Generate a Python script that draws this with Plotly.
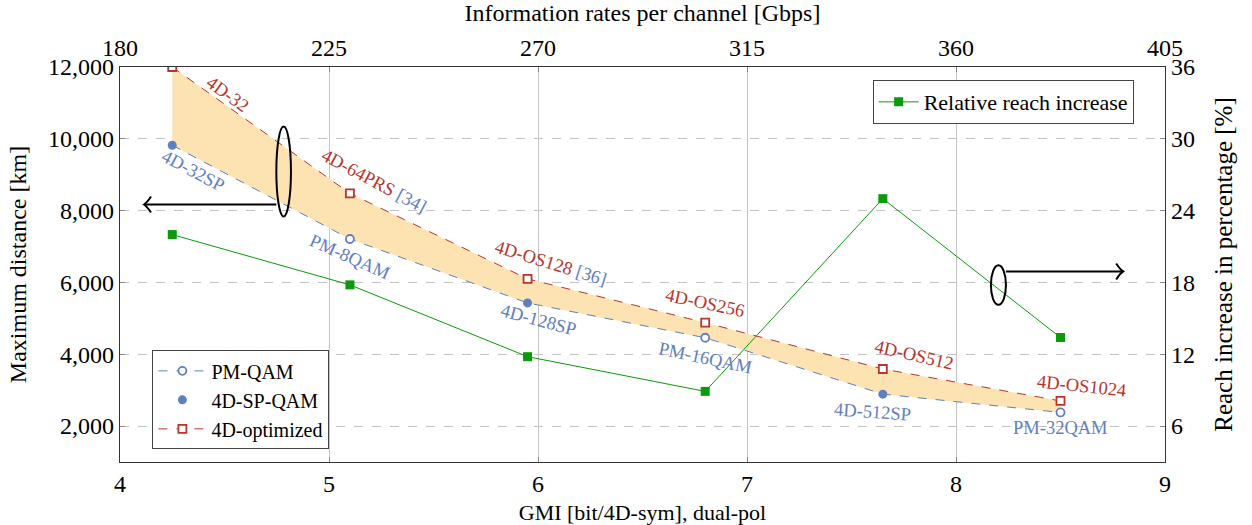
import plotly.graph_objects as go

# --- data -------------------------------------------------------------
gmi = [4.25, 5.10, 5.95, 6.80, 7.65, 8.50]                 # bit/4D-sym
baseline_km = [9820, 7210, 5430, 4460, 2890, 2380]         # PM-QAM / 4D-SP-QAM reach
optimized_km = [12000, 8480, 6100, 4880, 3590, 2700]       # 4D-optimized reach
reach_gain_pct = [22.0, 17.8, 11.8, 8.9, 25.0, 13.4]       # relative reach increase

pm_idx = [1, 3, 5]        # points belonging to PM-QAM
sp_idx = [0, 2, 4]        # points belonging to 4D-SP-QAM

baseline_labels = ["4D-32SP", "PM-8QAM", "4D-128SP", "PM-16QAM", "4D-512SP", "PM-32QAM"]
optimized_labels = ["4D-32", "4D-64PRS", "4D-OS128", "4D-OS256", "4D-OS512", "4D-OS1024"]
optimized_refs = ["", "[34]", "[36]", "", "", ""]

left_ticks = [2000, 4000, 6000, 8000, 10000, 12000]
right_ticks = [6, 12, 18, 24, 30, 36]
bottom_ticks = [4, 5, 6, 7, 8, 9]
top_ticks = [180, 225, 270, 315, 360, 405]                  # Gbps per channel

# --- styling ----------------------------------------------------------
BLUE = "#5f80bf"
RED = "#b8342d"
GREEN = "#0a9a0a"
FILL = "#fde3b1"
FONT = "Liberation Serif"
FS = 24
LABEL_FS = 18.5

fig = go.Figure()

# baseline dashed curve through every baseline point
fig.add_trace(go.Scatter(x=gmi, y=baseline_km, mode="lines",
                         line=dict(color=BLUE, width=1, dash="dash"),
                         showlegend=False, hoverinfo="skip"))
# shaded gap between baseline and optimized curves
fig.add_trace(go.Scatter(x=gmi, y=optimized_km, mode="lines", fill="tonexty",
                         fillcolor=FILL, line=dict(width=0),
                         showlegend=False, hoverinfo="skip"))
# optimized curve
fig.add_trace(go.Scatter(x=gmi, y=optimized_km, mode="lines+markers", name="4D-optimized",
                         line=dict(color=RED, width=1, dash="dash"),
                         marker=dict(symbol="square", size=8, color="white",
                                     line=dict(color=RED, width=1.8)),
                         legendrank=3))
# PM-QAM hollow circles (isolated points so only the legend shows a dashed stub)
pm_x, pm_y = [], []
for i in pm_idx:
    pm_x += [gmi[i], None]
    pm_y += [baseline_km[i], None]
fig.add_trace(go.Scatter(x=pm_x, y=pm_y, mode="lines+markers", name="PM-QAM",
                         connectgaps=False,
                         line=dict(color=BLUE, width=1, dash="dash"),
                         marker=dict(symbol="circle", size=8, color="white",
                                     line=dict(color=BLUE, width=1.8)),
                         legendrank=1))
# 4D-SP-QAM filled circles
fig.add_trace(go.Scatter(x=[gmi[i] for i in sp_idx], y=[baseline_km[i] for i in sp_idx],
                         mode="markers", name="4D-SP-QAM",
                         marker=dict(symbol="circle", size=9, color=BLUE),
                         legendrank=2))
# relative reach increase on the right axis
fig.add_trace(go.Scatter(x=gmi, y=reach_gain_pct, mode="lines+markers",
                         name="Relative reach increase", yaxis="y2", legend="legend2",
                         line=dict(color=GREEN, width=1),
                         marker=dict(symbol="square", size=9, color=GREEN)))
# anchor for the information-rate axis on top
fig.add_trace(go.Scatter(x=top_ticks, y=[None] * len(top_ticks), xaxis="x2",
                         mode="markers", showlegend=False, hoverinfo="skip"))

# --- point labels -----------------------------------------------------
# (point index, curve, angle, xshift, yshift)
label_specs = [
    (0, "opt", 36, 55, -27), (0, "base", 28, 21, -26),
    (1, "opt", 28, 24, 12), (1, "base", 24, 0, -18),
    (2, "opt", 17, 23, 16), (2, "base", 15, 11, -17),
    (3, "opt", 12, 0, 20), (3, "base", 12, 0, -20),
    (4, "opt", 13, 31, 14), (4, "base", 4, -10, -18),
    (5, "opt", 6, 21, 15), (5, "base", 0, 0, -16),
]
for i, kind, ang, dx, dy in label_specs:
    if kind == "opt":
        txt = optimized_labels[i]
        if optimized_refs[i]:
            txt += f" <span style='color:{BLUE}'>{optimized_refs[i]}</span>"
        y, col = optimized_km[i], RED
    else:
        txt, y, col = baseline_labels[i], baseline_km[i], BLUE
    fig.add_annotation(x=gmi[i], y=y, text=txt, showarrow=False, textangle=ang,
                       xshift=dx, yshift=dy,
                       font=dict(family=FONT, size=LABEL_FS, color=col))

# --- axis-pointer ellipses and arrows ---------------------------------
shapes = [
    dict(type="circle", xref="x", yref="y", x0=4.748, x1=4.818, y0=7840, y1=10340,
         line=dict(color="black", width=2)),
    dict(type="line", xref="x", yref="y", x0=4.748, x1=4.115, y0=8170, y1=8170,
         line=dict(color="black", width=2)),
    dict(type="path", xref="x", yref="y", xsizemode="pixel", ysizemode="pixel",
         xanchor=4.115, yanchor=8170, path="M 7,8 Q 3,2 0,0 Q 3,-2 7,-8",
         line=dict(color="black", width=2)),
    dict(type="circle", xref="x", yref="y", x0=8.167, x1=8.239, y0=5377, y1=6477,
         line=dict(color="black", width=2)),
    dict(type="line", xref="x", yref="y", x0=8.239, x1=8.80, y0=6307, y1=6307,
         line=dict(color="black", width=2)),
    dict(type="path", xref="x", yref="y", xsizemode="pixel", ysizemode="pixel",
         xanchor=8.80, yanchor=6307, path="M -7,8 Q -3,2 0,0 Q -3,-2 -7,-8",
         line=dict(color="black", width=2)),
]

axis_common = dict(showline=True, linecolor="#333", linewidth=1.2,
                   ticks="inside", ticklen=5, tickcolor="#888",
                   tickfont=dict(family=FONT, size=FS, color="black"),
                   zeroline=False, automargin=False)

fig.update_layout(
    width=1252, height=525,
    margin=dict(l=120, r=87, t=67, b=63),
    plot_bgcolor="white", paper_bgcolor="white",
    font=dict(family=FONT, size=FS, color="black"),
    shapes=shapes,
    xaxis=dict(range=[4, 9], tickvals=bottom_ticks, mirror=True,
               showgrid=True, gridcolor="#c4c4c4", gridwidth=1,
               title=dict(text="GMI [bit/4D-sym], dual-pol", font=dict(size=22), standoff=8),
               **axis_common),
    xaxis2=dict(range=[180, 405], tickvals=top_ticks, overlaying="x", side="top",
                showgrid=False,
                title=dict(text="Information rates per channel [Gbps]", font=dict(size=FS),
                           standoff=6),
                **axis_common),
    yaxis=dict(range=[1000, 12000], tickvals=left_ticks, tickformat=",d",
               showgrid=True, gridcolor="#c4c4c4", gridwidth=1, griddash="dash",
               title=dict(text="Maximum distance [km]", font=dict(size=FS), standoff=14),
               **axis_common),
    yaxis2=dict(range=[3, 36], tickvals=right_ticks, overlaying="y", side="right",
                showgrid=False,
                title=dict(text="Reach increase in percentage [%]", font=dict(size=25),
                           standoff=20),
                **axis_common),
    legend=dict(x=0.031, y=0.032, xanchor="left", yanchor="bottom", traceorder="normal",
                bgcolor="white", bordercolor="#444", borderwidth=1,
                font=dict(family=FONT, size=20), tracegroupgap=0, itemwidth=48),
    legend2=dict(x=0.970, y=0.967, xanchor="right", yanchor="top",
                 bgcolor="white", bordercolor="#444", borderwidth=1,
                 font=dict(family=FONT, size=22), itemwidth=40),
)

fig.write_html("out.html")
